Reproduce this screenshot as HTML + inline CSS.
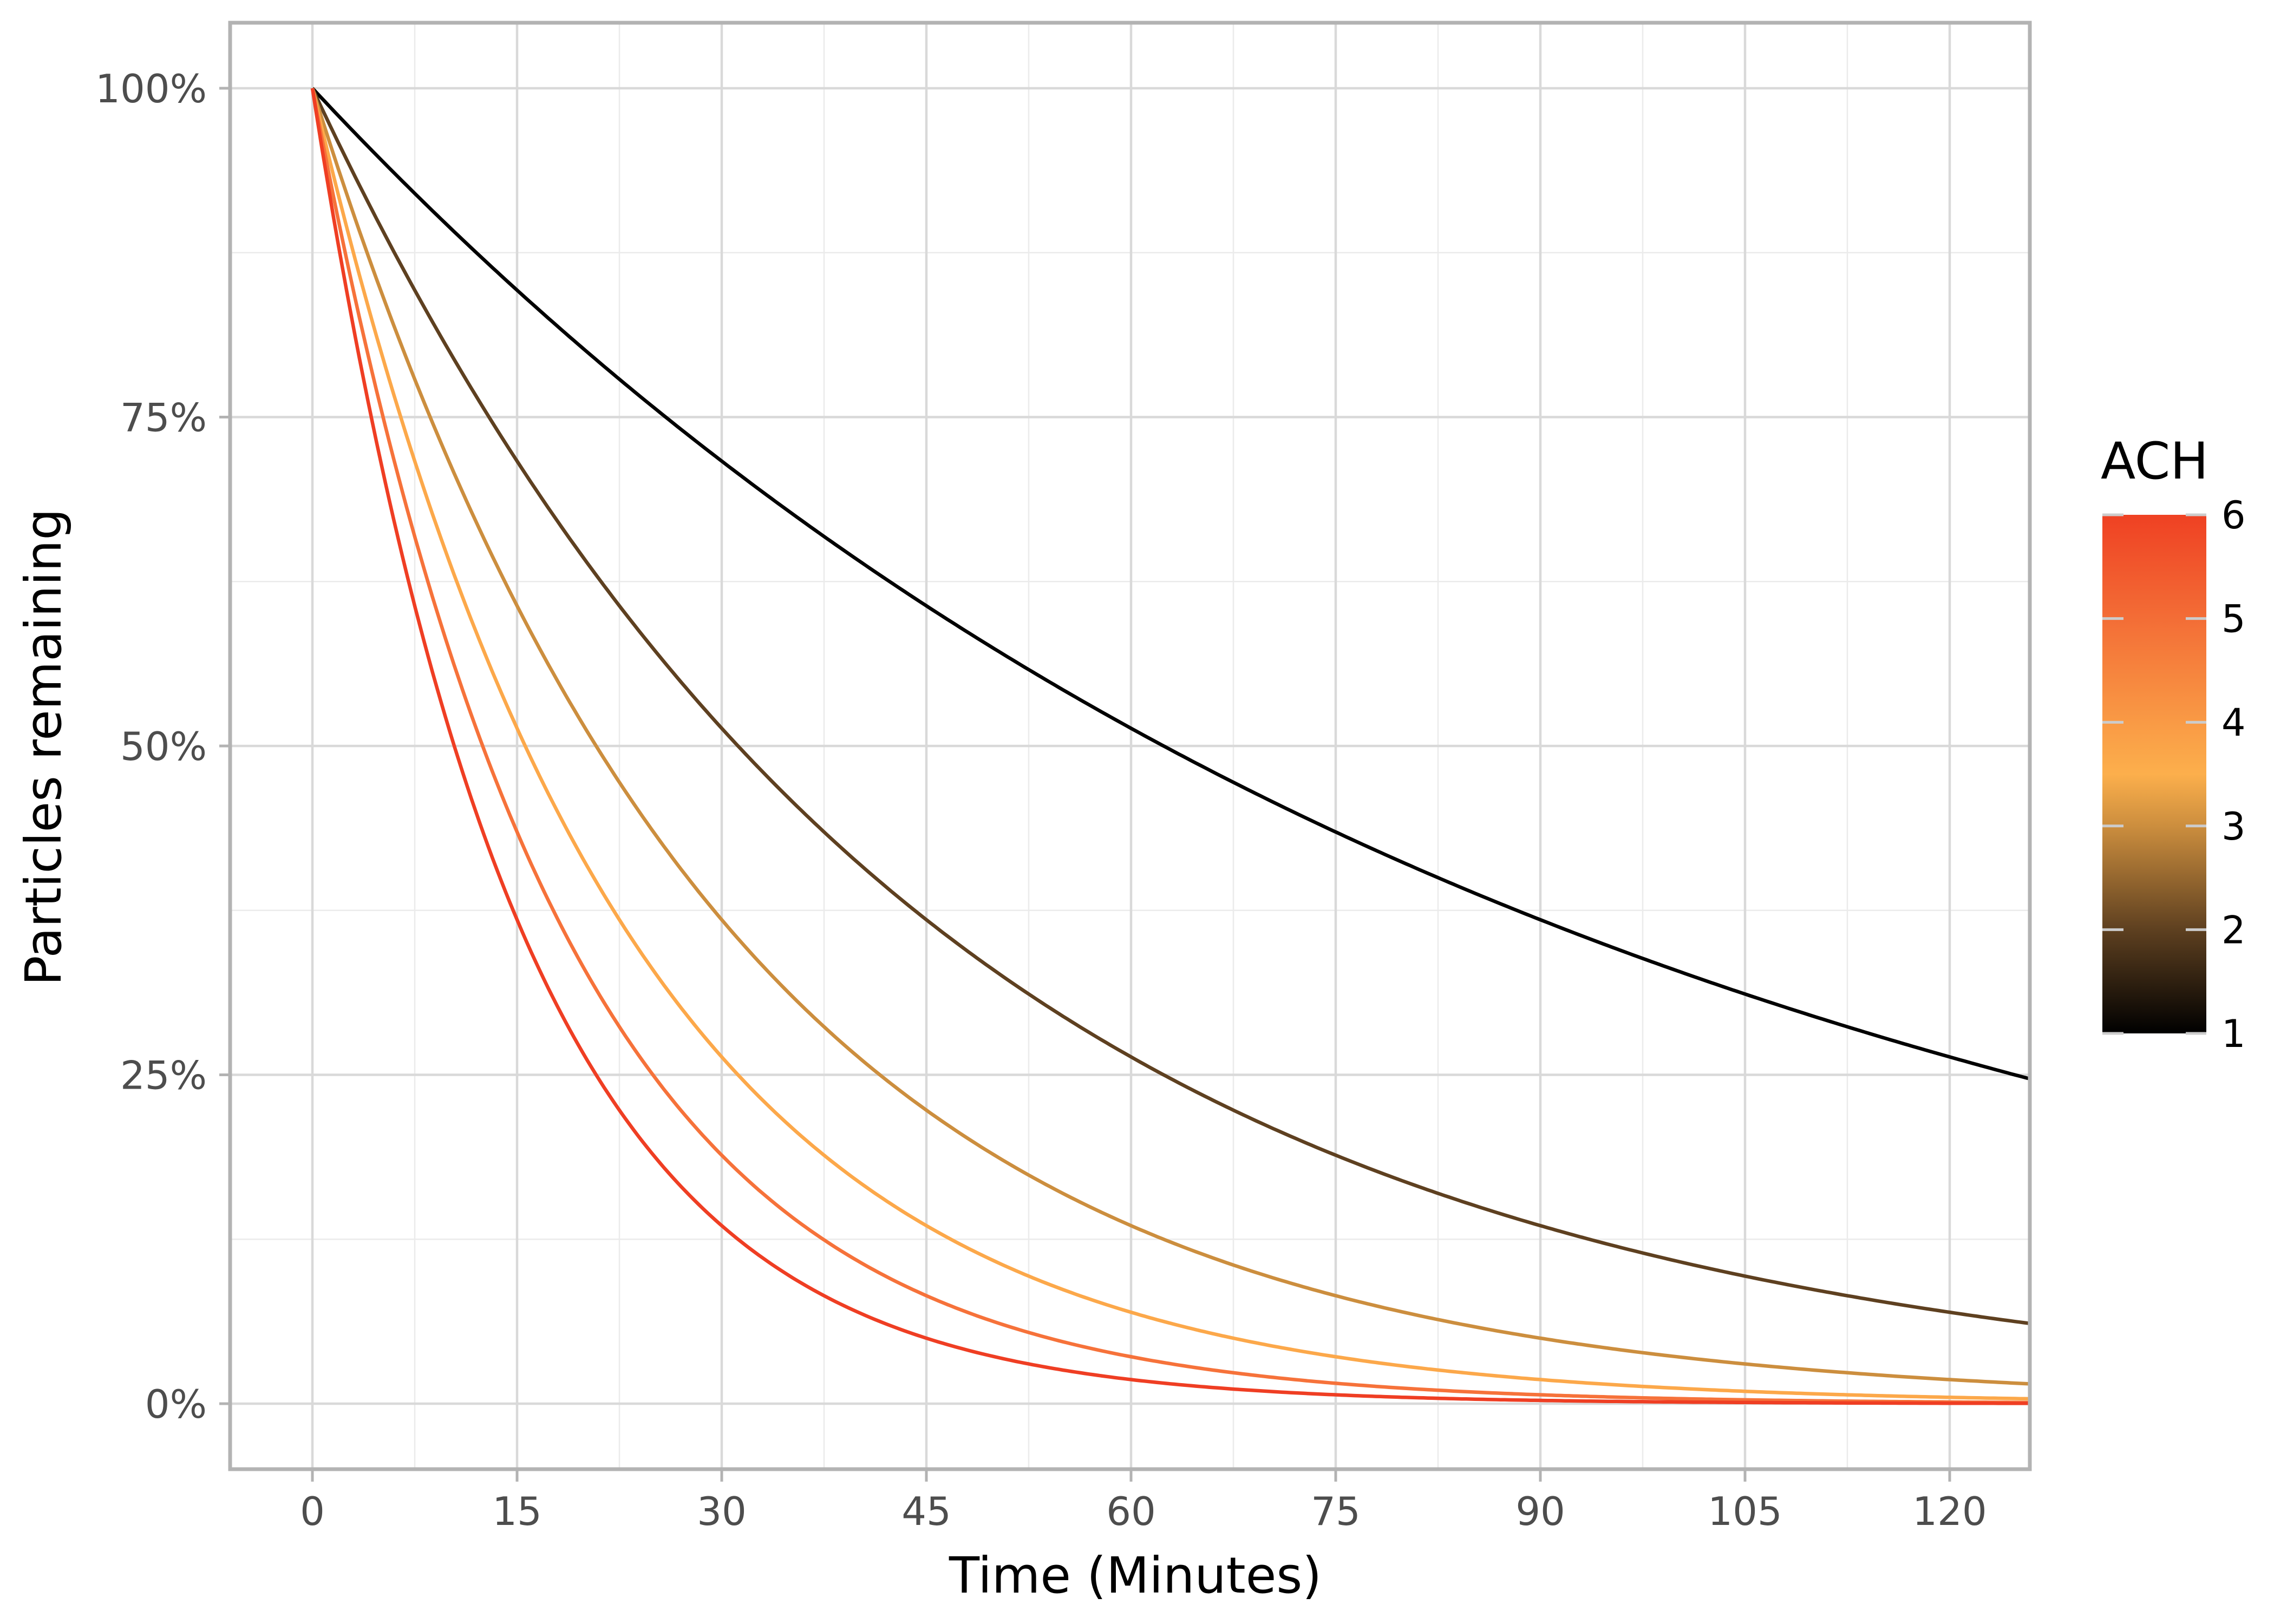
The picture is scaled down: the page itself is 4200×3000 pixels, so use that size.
<!DOCTYPE html>
<html><head><meta charset="utf-8"><style>html,body{margin:0;padding:0;background:#fff}svg{display:block}</style></head>
<body>
<svg id="s" width="4200" height="3000" xmlns="http://www.w3.org/2000/svg" font-family="DejaVu Sans, Liberation Sans, sans-serif">
<defs>
<linearGradient id="g" x1="0" y1="1" x2="0" y2="0">
<stop offset="0" stop-color="#000000"/>
<stop offset="0.2" stop-color="#5e4020"/>
<stop offset="0.4" stop-color="#cc8e3e"/>
<stop offset="0.5" stop-color="#fcaf4c"/>
<stop offset="0.6" stop-color="#f99a45"/>
<stop offset="0.8" stop-color="#f36d36"/>
<stop offset="1" stop-color="#ef4123"/>
</linearGradient>
</defs>
<g id="grid"></g>
<g id="lines" fill="none" stroke-width="6.5" stroke-linejoin="round"></g>
<rect x="425" y="42" width="3324" height="2672" fill="none" stroke="#b3b3b3" stroke-width="7"/>
<g id="ticks" stroke="#b3b3b3" stroke-width="5"></g>
<g id="labels" fill="#4d4d4d" font-size="72"></g>
<text x="2097" y="2942" font-size="92" text-anchor="middle" fill="#000">Time (Minutes)</text>
<text transform="translate(112,1380) rotate(-90)" font-size="92" text-anchor="middle" fill="#000">Particles remaining</text>
<text x="3880" y="884" font-size="94" fill="#000">ACH</text>
<rect x="3883" y="951" width="192" height="958" fill="url(#g)"/>
<g id="leg" stroke="#cccccc" stroke-width="5"></g>
<g id="legl" font-size="70" fill="#000"></g>
</svg>
<script>
var NS="http://www.w3.org/2000/svg";
function el(p,t,a,txt){var e=document.createElementNS(NS,t);for(var k in a)e.setAttribute(k,a[k]);if(txt!=null)e.textContent=txt;document.getElementById(p).appendChild(e);}
var x0=577,px=25.2,y0=2593,yh=2430,L=425,R=3749,T=42,B=2714;
function X(t){return x0+t*px}function Y(v){return y0-v*yh}
for(var t=7.5;t<126;t+=15)el("grid","line",{x1:X(t),x2:X(t),y1:T,y2:B,stroke:"#ebebeb","stroke-width":2.5});
for(var v=0.125;v<1.05;v+=0.25)el("grid","line",{x1:L,x2:R,y1:Y(v),y2:Y(v),stroke:"#ebebeb","stroke-width":2.5});
for(var t=0;t<=120;t+=15){el("grid","line",{x1:X(t),x2:X(t),y1:T,y2:B,stroke:"#d9d9d9","stroke-width":4.5});
 el("ticks","line",{x1:X(t),x2:X(t),y1:B+3,y2:B+23});
 el("labels","text",{x:X(t),y:2817,"text-anchor":"middle"},""+t);}
for(var i=0;i<=4;i++){var v=i*0.25;el("grid","line",{x1:L,x2:R,y1:Y(v),y2:Y(v),stroke:"#d9d9d9","stroke-width":4.5});
 el("ticks","line",{x1:L-20,x2:L-3,y1:Y(v),y2:Y(v)});
 el("labels","text",{x:382,y:Y(v)+26,"text-anchor":"end"},(i*25)+"%");}
var cols=["#000000","#5e4020","#cc8e3e","#fca84a","#f6723a","#ef3e23"];
var tmax=(R-3-x0)/px;
for(var a=1;a<=6;a++){var d="";for(var j=0;j<=400;j++){var t=tmax*j/400;d+=(j?"L":"M")+X(t).toFixed(1)+","+Y(Math.exp(-a*t/90)).toFixed(1);}
 el("lines","path",{d:d,stroke:cols[a-1]});}
for(var k=0;k<6;k++){var y=1909-k*191.6;
 el("leg","line",{x1:3883,x2:3922,y1:y,y2:y});el("leg","line",{x1:4037,x2:4075,y1:y,y2:y});
 el("legl","text",{x:4103,y:y+25},""+(k+1));}
</script>
</body></html>
